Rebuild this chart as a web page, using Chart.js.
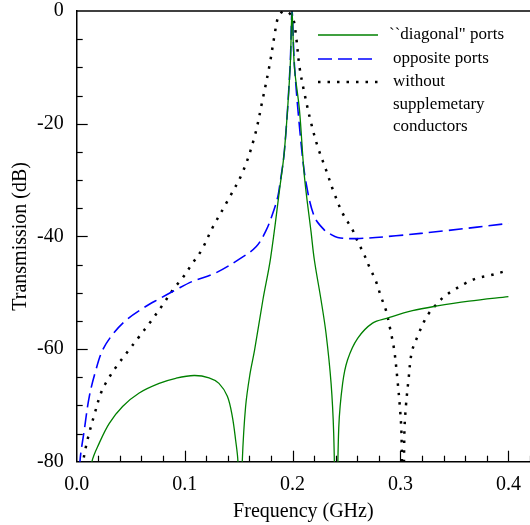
<!DOCTYPE html>
<html><head><meta charset="utf-8">
<script src="https://cdn.jsdelivr.net/npm/chart.js@4.4.0/dist/chart.umd.min.js"></script>
<style>html,body{margin:0;padding:0;background:#fff}</style>
</head><body>
<canvas id="c" width="530" height="525"></canvas>
<script>
// ---- data ----
const seriesNames = ['``diagonal" ports', 'opposite ports', ['without', 'supplemetary', 'conductors']];
const xTicks = [0.0, 0.1, 0.2, 0.3, 0.4];
const yTicks = [-80, -60, -40, -20, 0];

const diagX = [0.0125,0.0141,0.0209,0.0302,0.0425,0.0579,0.0764,0.0918,0.1087,0.1226,0.1318,0.1396,0.1442,0.1472,0.1494,0.1514,0.1534,0.1565,0.1605,0.1648,0.1725,0.1796,0.1879,0.1925,0.1978,0.1995,0.2017,0.2064,0.211,0.2172,0.2202,0.2264,0.231,0.2357,0.2381,0.2405,0.2428,0.2464,0.251,0.2603,0.2741,0.288,0.3111,0.3327,0.3635,0.4];
const diagY = [-84,-80,-76.7,-73.2,-70.2,-67.8,-66.1,-65.2,-64.7,-65.1,-66.1,-68.4,-72.0,-76.1,-80,-95,-80,-70.2,-64.5,-60.2,-51.3,-43.9,-31.8,-24.7,-9.9,0,-9.9,-17.6,-29.4,-39.3,-44.2,-51.3,-57.2,-66.1,-74.9,-95,-74,-66.1,-61.9,-58.1,-55.4,-54.5,-53.2,-52.4,-51.5,-50.7];

const oppX = [0.0015,0.003,0.007,0.0117,0.0178,0.024,0.0333,0.0456,0.061,0.0764,0.0918,0.1072,0.1287,0.151,0.1664,0.1756,0.1817,0.1863,0.1879,0.1925,0.1978,0.1995,0.2017,0.2079,0.2126,0.2202,0.2295,0.2341,0.2418,0.2588,0.2957,0.342,0.4];
const oppY = [-88,-80,-74.4,-68.4,-63.7,-60.2,-57.4,-54.9,-52.8,-51.1,-49.5,-48.0,-46.5,-44.0,-41.8,-38.9,-35.9,-33,-31.2,-24.7,-9.5,0,-9.5,-23.5,-30.6,-36.5,-38.9,-39.5,-40.2,-40.4,-39.9,-39.0,-37.7];

const woX = [0.004,0.0061,0.0086,0.0123,0.0163,0.0225,0.0286,0.0379,0.0471,0.0579,0.0687,0.0795,0.0902,0.098,0.1072,0.1158,0.1263,0.1401,0.154,0.1648,0.1725,0.1787,0.1833,0.1863,0.19,0.194,0.2002,0.2033,0.2064,0.211,0.2172,0.2233,0.231,0.2387,0.2464,0.2557,0.2603,0.2665,0.2711,0.2773,0.2819,0.2865,0.2905,0.2942,0.2972,0.2994,0.3009,0.3025,0.3036,0.305,0.3074,0.3105,0.3157,0.3219,0.3265,0.3327,0.3404,0.3496,0.3604,0.3712,0.3835,0.3949];
const woY = [-86,-80,-77.3,-74.4,-71.7,-67.8,-65.5,-62.8,-60.5,-57.8,-55.1,-52.2,-49.2,-47.4,-44.8,-42.4,-38.3,-33.6,-28.5,-22.3,-15.5,-9.6,-4.3,-1.3,-0.2,0,-1.2,-4.6,-9.9,-14.6,-19.9,-24.1,-28.2,-32.4,-35.9,-38.9,-40.9,-43.3,-45.4,-48,-50.7,-53.1,-56.5,-60.2,-65.5,-70.2,-74.9,-95,-74.9,-70.2,-65.5,-60.5,-57.8,-55.1,-53.6,-52.2,-50.7,-49.5,-48.3,-47.4,-46.9,-46.3];

const toPts = (xs, ys) => xs.map((x, i) => ({x: x, y: ys[i]}));

const FONT = 'Liberation Serif, Times New Roman, serif';

const decor = {
  id: 'decor',
  afterDraw(chart) {
    const {ctx, chartArea: a, scales: {x, y}} = chart;
    ctx.save();
    ctx.strokeStyle = '#000';
    ctx.lineWidth = 1.5;
    // top border
    ctx.beginPath(); ctx.moveTo(a.left, a.top); ctx.lineTo(a.right, a.top); ctx.stroke();
    // inward ticks
    ctx.lineWidth = 1.2;
    for (let v = 0.02; v <= 0.4201; v += 0.02) {
      const px = Math.round(x.getPixelForValue(v)) + 0.5;
      const major = Math.abs(v * 10 - Math.round(v * 10)) < 1e-6;
      const len = major ? 11 : 6;
      ctx.beginPath(); ctx.moveTo(px, a.bottom); ctx.lineTo(px, a.bottom - len); ctx.stroke();
    }
    for (let v = -75; v < 0; v += 5) {
      const py = Math.round(y.getPixelForValue(v)) + 0.5;
      const len = (v % 20 === 0) ? 11 : 6;
      ctx.beginPath(); ctx.moveTo(a.left, py); ctx.lineTo(a.left + len, py); ctx.stroke();
    }
    // legend
    const rows = [35, 59, 82];
    const tx = [389, 393, 393];
    ctx.font = '17px ' + FONT;
    ctx.fillStyle = '#000';
    ctx.textBaseline = 'middle';
    ctx.textAlign = 'left';
    chart.data.datasets.forEach((ds, i) => {
      ctx.save();
      ctx.strokeStyle = ds.borderColor;
      ctx.lineWidth = ds.borderWidth;
      ctx.setLineDash(ds.borderDash || []);
      ctx.beginPath(); ctx.moveTo(318, rows[i]); ctx.lineTo(378, rows[i]); ctx.stroke();
      ctx.restore();
      const lines = Array.isArray(seriesNames[i]) ? seriesNames[i] : [seriesNames[i]];
      lines.forEach((t, j) => ctx.fillText(t, tx[i], rows[i] + j * 22.5));
    });
    ctx.restore();
  }
};

const common = {pointRadius: 0, fill: false, clip: 0, tension: 0.35, cubicInterpolationMode: 'default'};

new Chart(document.getElementById('c'), {
  type: 'line',
  data: {
    datasets: [
      Object.assign({label: '``diagonal" ports', data: toPts(diagX, diagY), borderColor: '#008000', borderWidth: 1.3, borderDash: []}, common),
      Object.assign({label: 'opposite ports', data: toPts(oppX, oppY), borderColor: '#0000ff', borderWidth: 1.6, borderDash: [14, 6]}, common),
      Object.assign({label: 'without supplemetary conductors', data: toPts(woX, woY), borderColor: '#000000', borderWidth: 2.5, borderDash: [2.5, 7]}, common)
    ]
  },
  options: {
    responsive: false,
    animation: false,
    layout: {padding: {left: 0, top: 11, right: 0, bottom: 0}},
    plugins: {legend: {display: false}, tooltip: {enabled: false}},
    scales: {
      x: {
        type: 'linear', min: 0, max: 0.42,
        afterFit: s => { s.height = 63.3; s.paddingLeft = 0; s.paddingRight = 0; },
        afterBuildTicks: s => { s.ticks = xTicks.map(v => ({value: v})); },
        grid: {display: false, drawTicks: false},
        border: {display: true, color: '#000', width: 1.5},
        ticks: {color: '#000', font: {family: FONT, size: 20}, padding: 11, maxRotation: 0, autoSkip: false, callback: v => Number(v).toFixed(1)},
        title: {display: true, text: 'Frequency (GHz)', color: '#000', font: {family: FONT, size: 20}, padding: {top: 0, bottom: 1}}
      },
      y: {
        type: 'linear', min: -80, max: 0,
        afterFit: s => { s.width = 76.7; s.paddingTop = 0; s.paddingBottom = 0; },
        afterBuildTicks: s => { s.ticks = yTicks.map(v => ({value: v})); },
        grid: {display: false, drawTicks: false},
        border: {display: true, color: '#000', width: 1.5},
        ticks: {color: '#000', font: {family: FONT, size: 20}, padding: 13, autoSkip: false, callback: v => String(v)},
        title: {display: true, text: 'Transmission (dB)', color: '#000', font: {family: FONT, size: 20}, padding: {top: 9, bottom: 0}}
      }
    }
  },
  plugins: [decor]
});
</script>
</body></html>
